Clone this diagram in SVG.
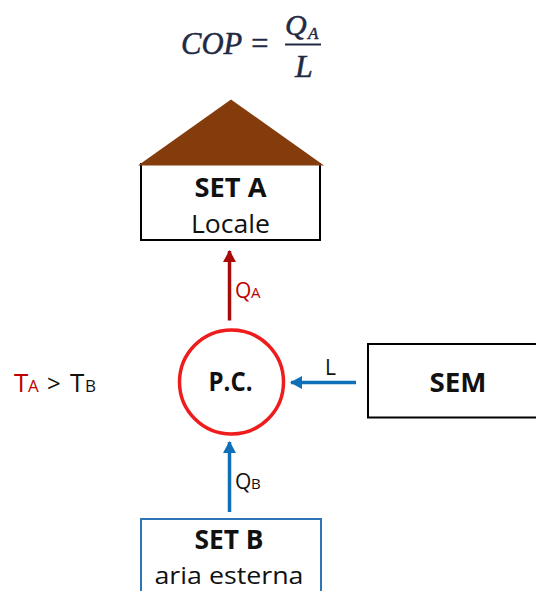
<svg xmlns="http://www.w3.org/2000/svg" width="536" height="591" viewBox="0 0 536 591">
<style>
text{font-family:"Open Sans","Noto Sans","Liberation Sans",sans-serif;fill:#111}
.b{font-weight:700;font-size:27px;text-anchor:middle}
.r{font-size:26px;text-anchor:middle}
.m{font-family:"Liberation Serif",serif;font-style:italic;font-size:32px;fill:#1f2a44;stroke:#1f2a44;stroke-width:.5}
.l{font-size:21px}
.s{font-size:15px}
.red{fill:#c00000}
.box{fill:#fff;stroke:#000;stroke-width:2}
</style>
<defs>
<marker id="ar" markerUnits="userSpaceOnUse" markerWidth="12" markerHeight="13" refX="11" refY="6.500" orient="auto"><path d="M0 0L12 6.500L0 13z" fill="#a80a0a"/></marker>
<marker id="ab" markerUnits="userSpaceOnUse" markerWidth="12" markerHeight="13" refX="11" refY="6.500" orient="auto"><path d="M0 0L12 6.500L0 13z" fill="#0f70b7"/></marker>
</defs>
<g id="formula">
<text class="m" x="181" y="54" textLength="89" lengthAdjust="spacingAndGlyphs">COP =</text>
<text class="m" x="285" y="35" style="font-size:30px">Q</text><text class="m" x="308" y="39" style="font-size:17px">A</text>
<rect x="285" y="43.500" width="36" height="2" fill="#1f2a44"/>
<text class="m" x="295" y="77">L</text>
</g>
<g id="set-a">
<rect class="box" x="141" y="164" width="179" height="76"/>
<path d="M138 165.500L231 99.500L324 165.500z" fill="#843c0c"/>
<text class="b" x="230.500" y="197" textLength="72" lengthAdjust="spacingAndGlyphs">SET A</text>
<text class="r" x="230.500" y="233" textLength="79" lengthAdjust="spacingAndGlyphs">Locale</text>
</g>
<g id="pc">
<circle cx="231.500" cy="382" r="52" fill="#fff" stroke="#ee1c1c" stroke-width="3.500"/>
<text class="b" x="230.500" y="391" textLength="44" lengthAdjust="spacingAndGlyphs">P.C.</text>
</g>
<g id="sem">
<rect class="box" x="368" y="344" width="170" height="73.500"/>
<text class="b" x="458" y="392" textLength="57" lengthAdjust="spacingAndGlyphs">SEM</text>
</g>
<g id="set-b">
<rect x="141" y="519" width="180" height="80" fill="#fff" stroke="#2e75b6" stroke-width="2"/>
<text class="b" x="229" y="549" textLength="69" lengthAdjust="spacingAndGlyphs">SET B</text>
<text class="r" x="229" y="584" style="font-size:24px" textLength="149" lengthAdjust="spacingAndGlyphs">aria esterna</text>
</g>
<g id="connectors" fill="none" stroke-width="3.500">
<path d="M229.500 320.500V251" stroke="#a80a0a" marker-end="url(#ar)"/>
<path d="M356 382.500H291" stroke="#0f70b7" marker-end="url(#ab)"/>
<path d="M229.500 512V442" stroke="#0f70b7" marker-end="url(#ab)"/>
</g>
<g id="labels">
<text class="l red" x="235" y="298">Q</text><text class="s red" x="251" y="298">A</text>
<text class="l" x="325" y="375">L</text>
<text class="l" x="235" y="489">Q</text><text class="s" x="251" y="489">B</text>
<text class="l red" x="14" y="392" style="font-size:26px">T</text><text class="s red" x="28" y="392" style="font-size:17px">A</text>
<text class="l" x="47" y="392" style="font-size:24px">&gt;</text>
<text class="l" x="70" y="392" style="font-size:26px">T</text><text class="s" x="85" y="392" style="font-size:17px">B</text>
</g>
</svg>
